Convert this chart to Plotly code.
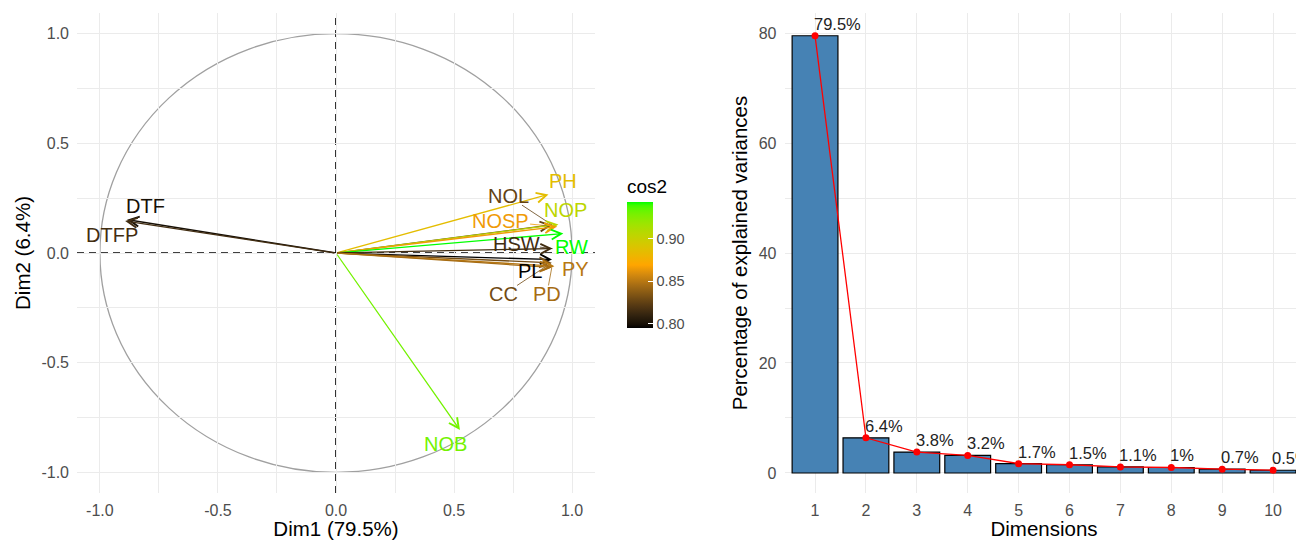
import math
import plotly.graph_objects as go

# ---------------- data ----------------
var_names = ["DTF", "DTFP", "PH", "NOL", "NOP", "NOSP", "RW", "HSW", "PL", "CC", "PY", "PD", "NOB"]
dim1 = [-0.885, -0.893, 0.900, 0.915, 0.942, 0.935, 0.963, 0.917, 0.915, 0.912, 0.925, 0.914, 0.525]
dim2 = [0.152, 0.146, 0.267, 0.128, 0.130, 0.120, 0.089, 0.020, -0.030, -0.045, -0.060, -0.066, -0.807]
cos2 = [0.800, 0.815, 0.885, 0.825, 0.905, 0.865, 0.943, 0.815, 0.795, 0.830, 0.850, 0.845, 0.930]
label_x = [-0.809, -0.950, 0.963, 0.730, 0.970, 0.695, 0.999, 0.766, 0.822, 0.709, 1.013, 0.893, 0.462]
label_y = [0.216, 0.084, 0.327, 0.259, 0.198, 0.145, 0.028, 0.039, -0.083, -0.189, -0.075, -0.189, -0.872]

dims = [1, 2, 3, 4, 5, 6, 7, 8, 9, 10]
explained = [79.5, 6.4, 3.8, 3.2, 1.7, 1.5, 1.1, 1.0, 0.7, 0.5]
explained_labels = ["79.5%", "6.4%", "3.8%", "3.2%", "1.7%", "1.5%", "1.1%", "1%", "0.7%", "0.5%"]

gradient_cols = ["#000000", "#FFA500", "#00FF00"]
cbar_ticks = [0.80, 0.85, 0.90]

# ---------------- Lab colour ramp (like scales::colour_ramp) ----------------
def hex_to_rgb(h):
    h = h.lstrip("#")
    return [int(h[i:i + 2], 16) / 255 for i in (0, 2, 4)]

def rgb_to_lab(rgb):
    def lin(c):
        return c / 12.92 if c <= 0.04045 else ((c + 0.055) / 1.055) ** 2.4
    r, g, b = [lin(c) for c in rgb]
    X = 0.4124 * r + 0.3576 * g + 0.1805 * b
    Y = 0.2126 * r + 0.7152 * g + 0.0722 * b
    Z = 0.0193 * r + 0.1192 * g + 0.9505 * b
    Xn, Yn, Zn = 0.95047, 1.0, 1.08883
    def f(t):
        return t ** (1 / 3) if t > 0.008856 else 7.787 * t + 16 / 116
    fx, fy, fz = f(X / Xn), f(Y / Yn), f(Z / Zn)
    return [116 * fy - 16, 500 * (fx - fy), 200 * (fy - fz)]

def lab_to_hex(lab):
    L, a, b = lab
    fy = (L + 16) / 116
    fx = fy + a / 500
    fz = fy - b / 200
    def finv(t):
        return t ** 3 if t ** 3 > 0.008856 else (t - 16 / 116) / 7.787
    Xn, Yn, Zn = 0.95047, 1.0, 1.08883
    X, Y, Z = Xn * finv(fx), Yn * finv(fy), Zn * finv(fz)
    r = 3.2406 * X - 1.5372 * Y - 0.4986 * Z
    g = -0.9689 * X + 1.8758 * Y + 0.0415 * Z
    bb = 0.0557 * X - 0.2040 * Y + 1.0570 * Z
    def gam(c):
        c = 12.92 * c if c <= 0.0031308 else 1.055 * c ** (1 / 2.4) - 0.055
        return max(0, min(1, c))
    return "#%02X%02X%02X" % tuple(round(gam(c) * 255) for c in (r, g, bb))

labs = [rgb_to_lab(hex_to_rgb(c)) for c in gradient_cols]

def ramp(t):
    t = max(0.0, min(1.0, t))
    seg = min(int(t * 2), 1)
    u = t * 2 - seg
    l0, l1 = labs[seg], labs[seg + 1]
    return lab_to_hex([l0[i] + (l1[i] - l0[i]) * u for i in range(3)])

cmin, cmax = min(cos2), max(cos2)
var_colors = [ramp((c - cmin) / (cmax - cmin)) for c in cos2]
n_stops = 41
colorscale = [[i / (n_stops - 1), ramp(i / (n_stops - 1))] for i in range(n_stops)]

# ---------------- figure ----------------
# The page body adds an 8px margin, so the figure is drawn 8px smaller
# and all pixel positions are measured with that offset.
OFF = 8
W, H = 1304 - OFF, 540 - OFF
FONT = "Liberation Sans, Arial, sans-serif"
TICK_COL = "#4D4D4D"
GRID = "#EBEBEB"
LABEL_SIZE = 20
TITLE_SIZE = 20.5

def px_x(p):
    return (p - OFF) / W

def px_y(p):
    return 1 - (p - OFF) / H

X1_RANGE = [-1.097, 1.097]
Y1_RANGE = [-1.094, 1.094]
X1_PX = (77, 595)
Y1_PX = (13, 493)
ux = (X1_PX[1] - X1_PX[0]) / (X1_RANGE[1] - X1_RANGE[0])   # px per unit
uy = (Y1_PX[1] - Y1_PX[0]) / (Y1_RANGE[1] - Y1_RANGE[0])

fig = go.Figure()

# colour bar carrier (invisible points at arrow tips)
fig.add_trace(go.Scatter(
    x=dim1, y=dim2, mode="markers",
    marker=dict(size=1, color=cos2, colorscale=colorscale, cmin=cmin, cmax=cmax, opacity=0,
                showscale=True,
                colorbar=dict(
                    x=px_x(627), xanchor="left", xpad=0, ypad=0,
                    y=px_y(176), yanchor="top",
                    len=328 - 176, lenmode="pixels", thickness=26, thicknessmode="pixels",
                    outlinewidth=0, tickvals=cbar_ticks, ticktext=["0.80", "0.85", "0.90"],
                    ticks="inside", ticklen=5, tickcolor="white", tickwidth=1,
                    tickfont=dict(family=FONT, size=14.5, color=TICK_COL),
                    title=dict(text="cos2", side="top", font=dict(family=FONT, size=19, color="black")),
                )),
    hoverinfo="skip", showlegend=False, xaxis="x", yaxis="y"))

# bars
fig.add_trace(go.Bar(
    x=dims, y=explained, width=0.9,
    marker=dict(color="#4682B4", line=dict(color="black", width=1.2)),
    showlegend=False, xaxis="x2", yaxis="y2"))

# line + points
fig.add_trace(go.Scatter(
    x=dims, y=explained, mode="lines+markers",
    line=dict(color="#FF0000", width=1.3),
    marker=dict(color="#FF0000", size=7),
    showlegend=False, xaxis="x2", yaxis="y2"))

shapes = [
    # unit circle
    dict(type="circle", xref="x", yref="y", x0=-1, y0=-1, x1=1, y1=1,
         line=dict(color="#A0A0A0", width=1.3), layer="below"),
    # dashed reference lines
    dict(type="line", xref="x", yref="y domain", x0=0, x1=0, y0=0, y1=1,
         line=dict(color="black", width=1.6, dash="7px,5px"), layer="below"),
    dict(type="line", xref="x domain", yref="y", x0=0, x1=1, y0=0, y1=0,
         line=dict(color="black", width=1.6, dash="7px,5px"), layer="below"),
]

# repel-style segments from label box edge to arrow tip (only when label is far)
for name, lx, ly, tx, ty, col in zip(var_names, label_x, label_y, dim1, dim2, var_colors):
    dxp = (tx - lx) * ux
    dyp = (ty - ly) * uy
    dist = math.hypot(dxp, dyp)
    hw = len(name) * 0.7 * LABEL_SIZE / 2 + 2
    hh = 9
    t = min(hw / abs(dxp) if dxp else 1e9, hh / abs(dyp) if dyp else 1e9)
    if t < 1 and (1 - t) * dist > 10:
        shapes.append(dict(type="line", xref="x", yref="y",
                           x0=lx + t * (tx - lx), y0=ly + t * (ty - ly), x1=tx, y1=ty,
                           line=dict(color=col, width=0.8), layer="above"))

annotations = []
for xv, yv, col in zip(dim1, dim2, var_colors):
    annotations.append(dict(
        x=xv, y=yv, ax=0, ay=0, xref="x", yref="y", axref="x", ayref="y",
        text="", showarrow=True, arrowhead=5, arrowsize=1.5, arrowwidth=1.3,
        arrowcolor=col, standoff=0, startstandoff=0))
for name, lx, ly, col in zip(var_names, label_x, label_y, var_colors):
    annotations.append(dict(
        x=lx, y=ly, xref="x", yref="y", text=name, showarrow=False,
        font=dict(family=FONT, size=LABEL_SIZE, color=col)))
for d, v, lab in zip(dims, explained, explained_labels):
    annotations.append(dict(
        x=d, y=v, xref="x2", yref="y2", text=lab, showarrow=False,
        xanchor="left", yanchor="bottom", xshift=-3, yshift=1,
        font=dict(family=FONT, size=16.5, color="#222222")))

axis_common = dict(
    showline=False, zeroline=False, gridcolor=GRID, gridwidth=1.3,
    tickfont=dict(family=FONT, size=16, color=TICK_COL), ticks="",
)

fig.update_layout(
    width=W, height=H, margin=dict(l=0, r=0, t=0, b=0),
    paper_bgcolor="white", plot_bgcolor="white",
    font=dict(family=FONT),
    shapes=shapes, annotations=annotations, bargap=0.1,
    xaxis=dict(domain=[px_x(X1_PX[0]), px_x(X1_PX[1])], range=X1_RANGE,
               tickvals=[-1.0, -0.5, 0.0, 0.5, 1.0], ticktext=["-1.0", "-0.5", "0.0", "0.5", "1.0"],
               minor=dict(tickvals=[-0.75, -0.25, 0.25, 0.75], showgrid=True, gridcolor=GRID, gridwidth=0.8),
               title=dict(text="Dim1 (79.5%)", font=dict(family=FONT, size=TITLE_SIZE, color="black"), standoff=3),
               anchor="y", ticklabelstandoff=6, **axis_common),
    yaxis=dict(domain=[px_y(Y1_PX[1]), px_y(Y1_PX[0])], range=Y1_RANGE,
               tickvals=[-1.0, -0.5, 0.0, 0.5, 1.0], ticktext=["-1.0", "-0.5", "0.0", "0.5", "1.0"],
               minor=dict(tickvals=[-0.75, -0.25, 0.25, 0.75], showgrid=True, gridcolor=GRID, gridwidth=0.8),
               title=dict(text="Dim2 (6.4%)", font=dict(family=FONT, size=TITLE_SIZE, color="black"), standoff=5),
               anchor="x", ticklabelstandoff=7, **axis_common),
    xaxis2=dict(domain=[px_x(784.5), px_x(1303.6)], range=[0.4, 10.6],
                tickvals=dims, ticktext=[str(d) for d in dims],
                title=dict(text="Dimensions", font=dict(family=FONT, size=TITLE_SIZE, color="black"), standoff=3),
                anchor="y2", ticklabelstandoff=6, **axis_common),
    yaxis2=dict(domain=[px_y(493), px_y(13)], range=[-3.64, 83.64],
                tickvals=[0, 20, 40, 60, 80],
                minor=dict(tickvals=[10, 30, 50, 70], showgrid=True, gridcolor=GRID, gridwidth=0.8),
                title=dict(text="Percentage of explained variances", font=dict(family=FONT, size=TITLE_SIZE, color="black"), standoff=5),
                anchor="x2", ticklabelstandoff=7, **axis_common),
)

fig.write_html("out.html")
